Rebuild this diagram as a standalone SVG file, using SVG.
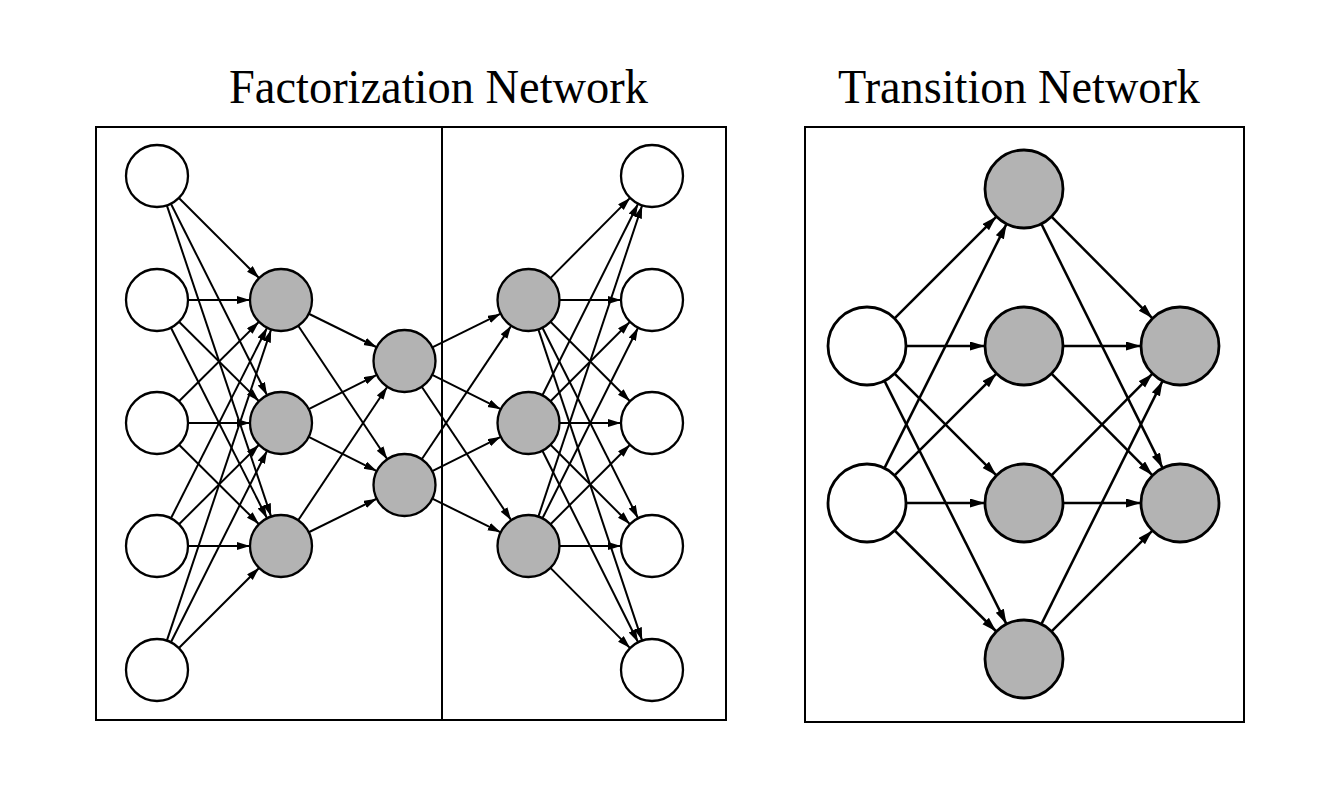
<svg xmlns="http://www.w3.org/2000/svg" width="1323" height="808" viewBox="0 0 1323 808">
<style>
.title{font-family:"Liberation Serif","Times New Roman",serif;font-size:49px;fill:#000}
.box{fill:none;stroke:#000;stroke-width:2}
.fw{fill:#fff;stroke:#000;stroke-width:2.3}
.fg{fill:#b3b3b3;stroke:#000;stroke-width:2.3}
.tw{fill:#fff;stroke:#000;stroke-width:2.8}
.tg{fill:#b3b3b3;stroke:#000;stroke-width:2.8}
#fedges line{stroke:#000;stroke-width:2;marker-end:url(#af)}
#tedges line{stroke:#000;stroke-width:2.5;marker-end:url(#at)}
</style>
<defs>
<marker id="af" markerUnits="userSpaceOnUse" markerWidth="16" markerHeight="10" refX="13" refY="4" orient="auto"><path d="M0,0 L13,4 L0,8 z" fill="#000"/></marker>
<marker id="at" markerUnits="userSpaceOnUse" markerWidth="18" markerHeight="12" refX="15" refY="4.5" orient="auto"><path d="M0,0 L15,4.5 L0,9 z" fill="#000"/></marker>
</defs>
<rect width="1323" height="808" fill="#fff"/>
<text class="title" x="229" y="103" textLength="419" lengthAdjust="spacingAndGlyphs">Factorization Network</text>
<text class="title" x="838" y="103" textLength="362" lengthAdjust="spacingAndGlyphs">Transition Network</text>
<g id="frame-factorization"><rect class="box" x="96" y="127" width="630" height="593"/><line x1="442" y1="127" x2="442" y2="720" stroke="#000" stroke-width="2"/></g>
<g id="frame-transition"><rect class="box" x="805" y="127" width="439" height="595"/></g>
<g id="fedges">
<line x1="178.92" y1="197.92" x2="259.08" y2="278.08"/>
<line x1="170.91" y1="203.70" x2="267.09" y2="395.30"/>
<line x1="166.85" y1="205.39" x2="271.15" y2="516.61"/>
<line x1="188" y1="300" x2="250" y2="300"/>
<line x1="179.01" y1="321.83" x2="258.99" y2="401.17"/>
<line x1="170.95" y1="327.68" x2="267.05" y2="518.32"/>
<line x1="179.01" y1="401.17" x2="258.99" y2="321.83"/>
<line x1="188" y1="423" x2="250" y2="423"/>
<line x1="179.01" y1="444.83" x2="258.99" y2="524.17"/>
<line x1="170.95" y1="518.32" x2="267.05" y2="327.68"/>
<line x1="179.01" y1="524.17" x2="258.99" y2="444.83"/>
<line x1="188" y1="546" x2="250" y2="546"/>
<line x1="166.85" y1="640.61" x2="271.15" y2="329.39"/>
<line x1="170.91" y1="642.30" x2="267.09" y2="450.70"/>
<line x1="178.92" y1="648.08" x2="259.08" y2="567.92"/>
<line x1="308.79" y1="313.73" x2="376.71" y2="347.27"/>
<line x1="298.21" y1="325.78" x2="387.29" y2="459.22"/>
<line x1="308.70" y1="409.09" x2="376.80" y2="374.91"/>
<line x1="308.70" y1="436.91" x2="376.80" y2="471.09"/>
<line x1="298.21" y1="520.22" x2="387.29" y2="386.78"/>
<line x1="308.79" y1="532.27" x2="376.71" y2="498.73"/>
<line x1="432.32" y1="347.32" x2="500.68" y2="313.68"/>
<line x1="432.23" y1="374.86" x2="500.77" y2="409.14"/>
<line x1="421.76" y1="386.75" x2="511.24" y2="520.25"/>
<line x1="421.76" y1="459.25" x2="511.24" y2="325.75"/>
<line x1="432.23" y1="471.14" x2="500.77" y2="436.86"/>
<line x1="432.32" y1="498.68" x2="500.68" y2="532.32"/>
<line x1="550.42" y1="278.08" x2="630.08" y2="197.92"/>
<line x1="559.5" y1="300" x2="621" y2="300"/>
<line x1="550.51" y1="321.83" x2="629.99" y2="401.17"/>
<line x1="542.45" y1="327.68" x2="638.05" y2="518.32"/>
<line x1="538.35" y1="329.39" x2="642.15" y2="640.61"/>
<line x1="542.41" y1="395.30" x2="638.09" y2="203.70"/>
<line x1="550.51" y1="401.17" x2="629.99" y2="321.83"/>
<line x1="559.5" y1="423" x2="621" y2="423"/>
<line x1="550.51" y1="444.83" x2="629.99" y2="524.17"/>
<line x1="542.41" y1="450.70" x2="638.09" y2="642.30"/>
<line x1="538.35" y1="516.61" x2="642.15" y2="205.39"/>
<line x1="542.45" y1="518.32" x2="638.05" y2="327.68"/>
<line x1="550.51" y1="524.17" x2="629.99" y2="444.83"/>
<line x1="559.5" y1="546" x2="621" y2="546"/>
<line x1="550.42" y1="567.92" x2="630.08" y2="648.08"/>
</g>
<g id="tedges">
<line x1="894.58" y1="318.42" x2="996.42" y2="216.58"/>
<line x1="906" y1="346" x2="985" y2="346"/>
<line x1="894.58" y1="373.58" x2="996.42" y2="475.42"/>
<line x1="884.49" y1="380.86" x2="1006.51" y2="624.14"/>
<line x1="884.44" y1="468.12" x2="1006.56" y2="223.88"/>
<line x1="894.58" y1="475.42" x2="996.42" y2="373.58"/>
<line x1="906" y1="503" x2="985" y2="503"/>
<line x1="894.67" y1="530.49" x2="996.33" y2="631.51"/>
<line x1="1051.49" y1="216.67" x2="1152.51" y2="318.33"/>
<line x1="1041.35" y1="223.93" x2="1162.65" y2="468.07"/>
<line x1="1063" y1="346" x2="1141" y2="346"/>
<line x1="1051.49" y1="373.67" x2="1152.51" y2="475.33"/>
<line x1="1051.49" y1="475.33" x2="1152.51" y2="373.67"/>
<line x1="1063" y1="503" x2="1141" y2="503"/>
<line x1="1041.40" y1="624.09" x2="1162.60" y2="380.91"/>
<line x1="1051.58" y1="631.42" x2="1152.42" y2="530.58"/>
</g>
<g id="in1"><circle class="fw" cx="157" cy="176" r="31"/></g>
<g id="in2"><circle class="fw" cx="157" cy="300" r="31"/></g>
<g id="in3"><circle class="fw" cx="157" cy="423" r="31"/></g>
<g id="in4"><circle class="fw" cx="157" cy="546" r="31"/></g>
<g id="in5"><circle class="fw" cx="157" cy="670" r="31"/></g>
<g id="h1"><circle class="fg" cx="281" cy="300" r="31"/></g>
<g id="h2"><circle class="fg" cx="281" cy="423" r="31"/></g>
<g id="h3"><circle class="fg" cx="281" cy="546" r="31"/></g>
<g id="m1"><circle class="fg" cx="404.5" cy="361" r="31"/></g>
<g id="m2"><circle class="fg" cx="404.5" cy="485" r="31"/></g>
<g id="g1"><circle class="fg" cx="528.5" cy="300" r="31"/></g>
<g id="g2"><circle class="fg" cx="528.5" cy="423" r="31"/></g>
<g id="g3"><circle class="fg" cx="528.5" cy="546" r="31"/></g>
<g id="out1"><circle class="fw" cx="652" cy="176" r="31"/></g>
<g id="out2"><circle class="fw" cx="652" cy="300" r="31"/></g>
<g id="out3"><circle class="fw" cx="652" cy="423" r="31"/></g>
<g id="out4"><circle class="fw" cx="652" cy="546" r="31"/></g>
<g id="out5"><circle class="fw" cx="652" cy="670" r="31"/></g>
<g id="ti1"><circle class="tw" cx="867" cy="346" r="39"/></g>
<g id="ti2"><circle class="tw" cx="867" cy="503" r="39"/></g>
<g id="tm1"><circle class="tg" cx="1024" cy="189" r="39"/></g>
<g id="tm2"><circle class="tg" cx="1024" cy="346" r="39"/></g>
<g id="tm3"><circle class="tg" cx="1024" cy="503" r="39"/></g>
<g id="tm4"><circle class="tg" cx="1024" cy="659" r="39"/></g>
<g id="to1"><circle class="tg" cx="1180" cy="346" r="39"/></g>
<g id="to2"><circle class="tg" cx="1180" cy="503" r="39"/></g>
</svg>
